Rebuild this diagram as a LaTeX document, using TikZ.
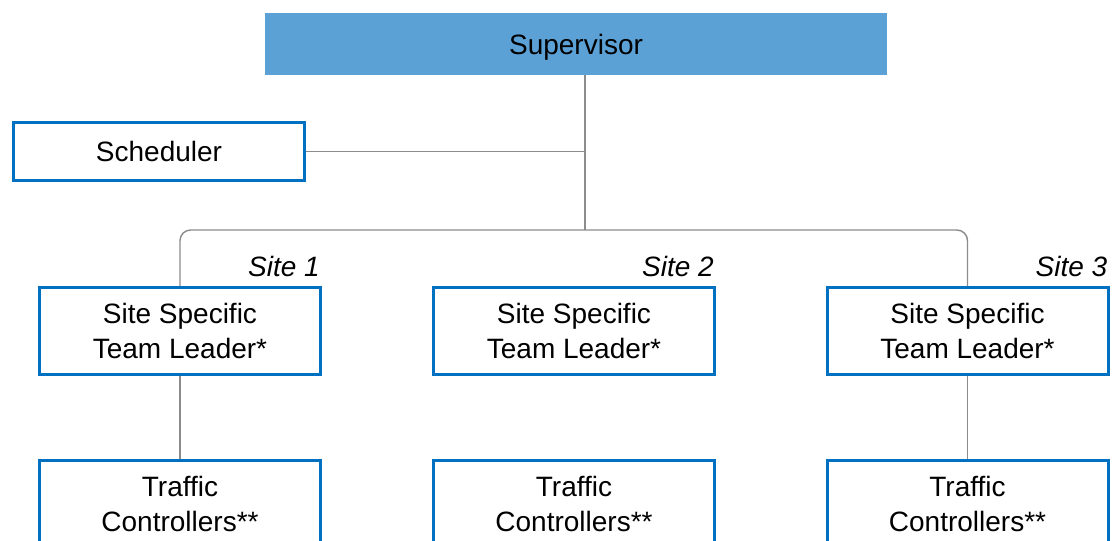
\documentclass[tikz,border=0pt]{standalone}
\usepackage{fontspec}
\setmainfont{Liberation Sans}
\usetikzlibrary{positioning, calc}
\definecolor{supblue}{RGB}{91,161,214}
\definecolor{boxblue}{RGB}{0,112,192}
\definecolor{linegray}{RGB}{140,140,140}

\begin{document}
\begin{tikzpicture}[x=0.75pt, y=-0.75pt,
	every node/.style={font=\fontsize{21}{26}\selectfont, align=center, inner sep=0pt},
	rolebox/.style={draw=boxblue, line width=2.25pt, fill=white, minimum width=210.75pt, minimum height=65.25pt},
	sitelabel/.style={font=\fontsize{21}{26}\selectfont\itshape, anchor=base east},
	link/.style={draw=linegray, line width=1.1pt}]
	
	%//page size, boxes at the bottom run off the page
	\useasboundingbox (0,0) rectangle (1114,541);
	\clip (0,0) rectangle (1114,541);
	
	\node [fill=supblue, minimum width=466.5pt, minimum height=46.5pt, text height=20pt, text depth=4.5pt] (sup) at (576, 44) {Supervisor};
	\node [rolebox, minimum width=218.25pt, minimum height=43.5pt] (sched) at (159, 151.5) {Scheduler};
	
	\foreach \i/\cx in {1/180, 2/574, 3/967.5}
	{
		\node [rolebox] (lead\i) at (\cx, 331) {Site Specific\\Team Leader*};
		\node [rolebox] (ctrl\i) at (\cx, 504) {Traffic\\Controllers**};
		\node [sitelabel] (site\i) at ($(lead\i.north east)+(-2,-9)$) {Site \i};
	}
	
	\coordinate (trunk) at (585, 230);
	
	\draw [link] (sup.south -| trunk) -- (trunk);
	\draw [link] (sched.east) -- (sched.east -| trunk);
	\draw [link, rounded corners=8pt] (lead1.north) |- (trunk) -| (lead3.north);
	
	\foreach \i in {1, 3}
	\draw [link] (lead\i.south) -- (ctrl\i.north);
	
\end{tikzpicture}
\end{document}
